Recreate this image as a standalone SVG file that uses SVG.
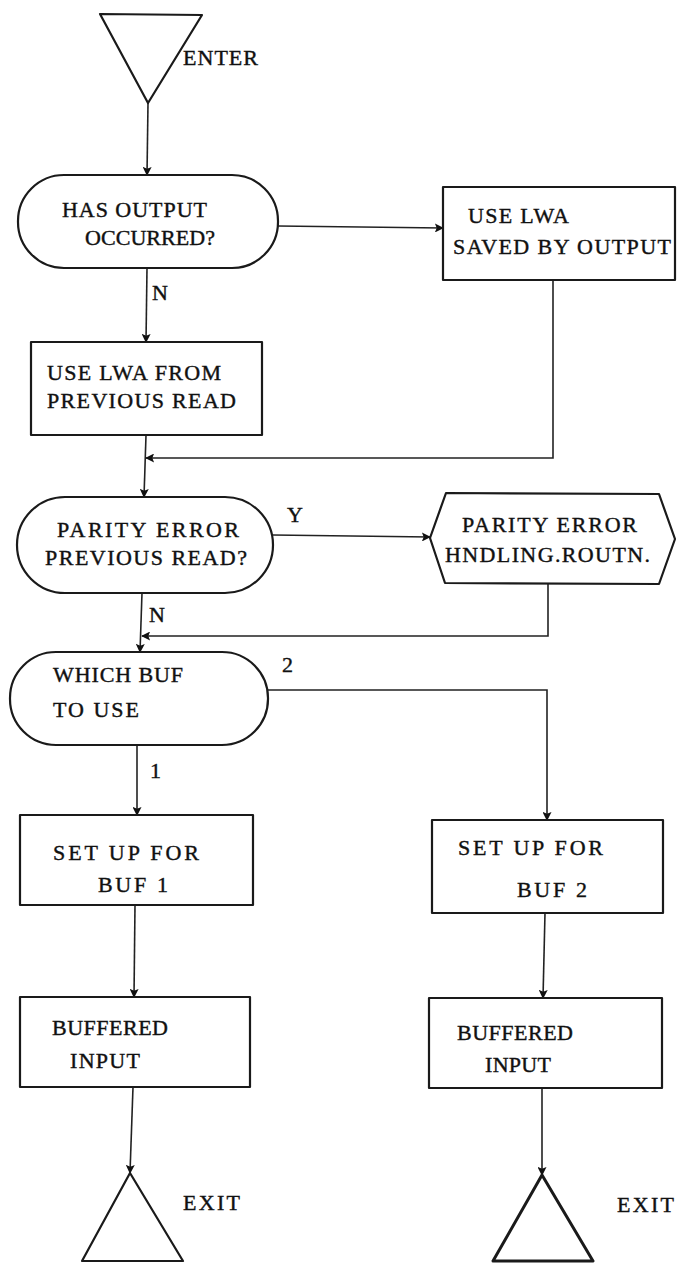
<svg xmlns="http://www.w3.org/2000/svg" width="681" height="1264" viewBox="0 0 681 1264">
<style>
.shape{fill:none;stroke:#1a1a1a;stroke-width:2.2;stroke-linejoin:round}
.conn{fill:none;stroke:#222;stroke-width:1.6}
.t{font-family:"Liberation Serif","Times New Roman",serif;font-size:22px;fill:#111;stroke:#111;stroke-width:0.4}
</style>
<defs>
<marker id="arr" viewBox="0 0 10 10" refX="9" refY="5" markerWidth="13" markerHeight="9" orient="auto" markerUnits="userSpaceOnUse">
<path d="M0,0 L10,5 L0,10 L2,5 Z" fill="#111"/>
</marker>
</defs>
<rect width="681" height="1264" fill="#fff"/>

<g id="connectors">
<line class="conn" x1="148" y1="103" x2="147" y2="175" marker-end="url(#arr)"/>
<line class="conn" x1="278" y1="226" x2="443" y2="228" marker-end="url(#arr)"/>
<line class="conn" x1="147" y1="268" x2="146" y2="342" marker-end="url(#arr)"/>
<polyline class="conn" points="553,280 553,458 146,458" marker-end="url(#arr)"/>
<line class="conn" x1="146" y1="435" x2="144" y2="497" marker-end="url(#arr)"/>
<line class="conn" x1="273" y1="535" x2="430" y2="537" marker-end="url(#arr)"/>
<polyline class="conn" points="548,584 548,636 142,636" marker-end="url(#arr)"/>
<line class="conn" x1="142" y1="593" x2="140" y2="652" marker-end="url(#arr)"/>
<polyline class="conn" points="268,690 547,690 547,820" marker-end="url(#arr)"/>
<line class="conn" x1="137" y1="745" x2="137" y2="815" marker-end="url(#arr)"/>
<line class="conn" x1="135" y1="905" x2="134" y2="997" marker-end="url(#arr)"/>
<line class="conn" x1="133" y1="1087" x2="130" y2="1173" marker-end="url(#arr)"/>
<line class="conn" x1="545" y1="913" x2="543" y2="998" marker-end="url(#arr)"/>
<line class="conn" x1="542" y1="1088" x2="542" y2="1175" marker-end="url(#arr)"/>
</g>

<g id="enter">
<polygon class="shape" points="100,14 202,15 148,103"/>
<text class="t" x="183" y="65" textLength="75" lengthAdjust="spacing">ENTER</text>
</g>

<g id="has-output">
<rect class="shape" x="18" y="175" width="260" height="93" rx="46" ry="46"/>
<text class="t" x="62" y="217" textLength="145" lengthAdjust="spacing">HAS OUTPUT</text>
<text class="t" x="85" y="245" textLength="130" lengthAdjust="spacing">OCCURRED?</text>
</g>

<g id="use-lwa-saved">
<rect class="shape" x="443" y="187" width="232" height="93"/>
<text class="t" x="468" y="223" textLength="101" lengthAdjust="spacing">USE LWA</text>
<text class="t" x="453" y="254" textLength="218" lengthAdjust="spacing">SAVED BY OUTPUT</text>
</g>

<g id="label-n1">
<text class="t" x="152" y="300">N</text>
</g>

<g id="use-lwa-prev">
<rect class="shape" x="31" y="342" width="231" height="93"/>
<text class="t" x="47" y="380" textLength="174" lengthAdjust="spacing">USE LWA FROM</text>
<text class="t" x="47" y="408" textLength="189" lengthAdjust="spacing">PREVIOUS READ</text>
</g>

<g id="parity-decision">
<rect class="shape" x="17" y="497" width="256" height="96" rx="48" ry="48"/>
<text class="t" x="57" y="537" textLength="182" lengthAdjust="spacing">PARITY ERROR</text>
<text class="t" x="45" y="565" textLength="202" lengthAdjust="spacing">PREVIOUS READ?</text>
</g>

<g id="label-y">
<text class="t" x="287" y="522">Y</text>
</g>

<g id="parity-routine">
<polygon class="shape" points="430,538 446,493 659,494 675,539 659,584 445,583"/>
<text class="t" x="462" y="532" textLength="175" lengthAdjust="spacing">PARITY ERROR</text>
<text class="t" x="445" y="562" textLength="205" lengthAdjust="spacing">HNDLING.ROUTN.</text>
</g>

<g id="label-n2">
<text class="t" x="149" y="622">N</text>
</g>

<g id="which-buf">
<rect class="shape" x="10" y="652" width="258" height="93" rx="46" ry="46"/>
<text class="t" x="53" y="682" textLength="130" lengthAdjust="spacing">WHICH BUF</text>
<text class="t" x="53" y="717" textLength="86" lengthAdjust="spacing">TO USE</text>
</g>

<g id="label-2">
<text class="t" x="282" y="672">2</text>
</g>

<g id="label-1">
<text class="t" x="150" y="778">1</text>
</g>

<g id="setup-buf1">
<rect class="shape" x="20" y="815" width="233" height="90"/>
<text class="t" x="53" y="860" textLength="146" lengthAdjust="spacing">SET UP FOR</text>
<text class="t" x="98" y="892" textLength="70" lengthAdjust="spacing">BUF 1</text>
</g>

<g id="setup-buf2">
<rect class="shape" x="432" y="820" width="231" height="93"/>
<text class="t" x="458" y="855" textLength="145" lengthAdjust="spacing">SET UP FOR</text>
<text class="t" x="517" y="897" textLength="70" lengthAdjust="spacing">BUF 2</text>
</g>

<g id="buffered-input-1">
<rect class="shape" x="20" y="997" width="230" height="90"/>
<text class="t" x="52" y="1035" textLength="116" lengthAdjust="spacing">BUFFERED</text>
<text class="t" x="70" y="1068" textLength="70" lengthAdjust="spacing">INPUT</text>
</g>

<g id="buffered-input-2">
<rect class="shape" x="429" y="998" width="233" height="90"/>
<text class="t" x="457" y="1040" textLength="116" lengthAdjust="spacing">BUFFERED</text>
<text class="t" x="485" y="1072" textLength="66" lengthAdjust="spacing">INPUT</text>
</g>

<g id="exit-1">
<polygon class="shape" points="130,1173 183,1261 82,1261"/>
<text class="t" x="183" y="1210" textLength="57" lengthAdjust="spacing">EXIT</text>
</g>

<g id="exit-2">
<polygon class="shape" points="542,1175 593,1261 493,1261" style="stroke-width:3"/>
<text class="t" x="617" y="1212" textLength="57" lengthAdjust="spacing">EXIT</text>
</g>
</svg>
